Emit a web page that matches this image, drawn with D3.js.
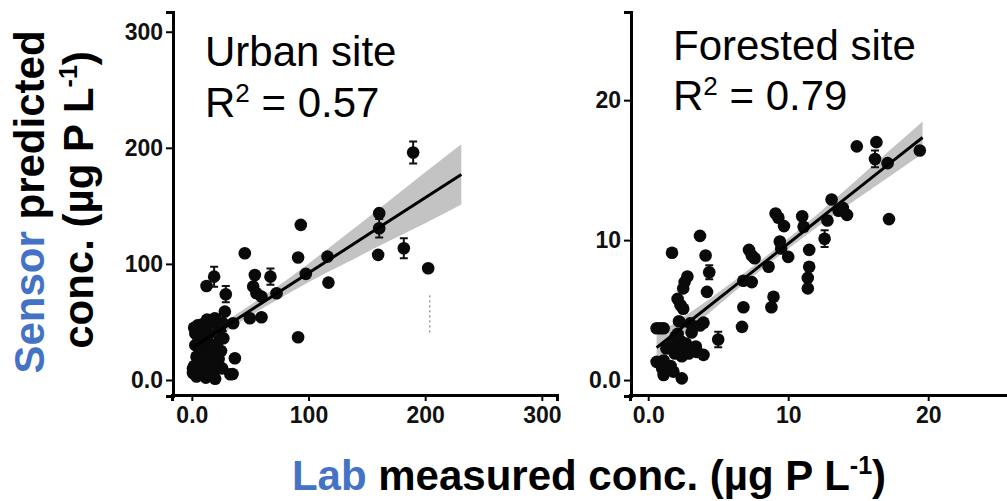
<!DOCTYPE html>
<html><head><meta charset="utf-8">
<script src="https://cdn.jsdelivr.net/npm/d3@7"></script>
<style>
html,body{margin:0;padding:0;background:#fff;}
svg{display:block;font-family:Arial,"Liberation Sans",Helvetica,sans-serif;}
</style></head>
<body>
<svg id="chart" width="1007" height="501"></svg>
<script>
// ---------- data ----------
// Urban site (left panel)
const urbanX = [189.7,160.6,160.6,159.7,181.7,202.6,93.4,91.1,97.7,116.3,117.1,91.1,45.4,54,52.6,55.4,59.7,67.4,72.6,49.7,59.7,12.6,19.1,29.1,28.3,35.4,36.9,34.9,19.7,26.6,
  2,5,8,12,15,18,20,22,6,10,14,3,8,12,16,20,24,4,7,11,15,19,2,5,9,13,17,21,1,4,8,12,16,20,25,27,6,10,14,18,3,9,24,13,1,23,26,33];
const urbanY = [196,143.7,130.7,107.8,113.5,96.3,133.6,105.5,91.4,106.3,83.9,36.8,109.2,90.5,80.5,74.7,71.8,89,74.7,53.2,54,81,89,73.9,58.9,48.9,18.7,5.2,53.2,49,
  45,47,42,44,40,50,52,48,35,38,32,30,28,25,28,30,35,20,22,18,20,22,12,10,14,8,12,15,6,3,5,2,4,1,25,36,15,8,12,6,40,48,44,52,10,18,10,5];
const urbanErr = [9.5,0,8,0,8.6,0,0,0,0,0,0,0,0,0,0,0,0,7,0,0,0,0,8.6,7,0,0,0,0,0,7,
  0,0,0,0,0,0,0,0,0,0,0,0,0,0,0,0,0,0,0,0,0,0,0,0,0,0,0,0,0,0,0,0,0,0,0,0,0,0,0,0,0,0,0,0,0,0,0,0];
const urbanFitX  = [1, 30, 60, 100, 130, 160, 200, 231];
const urbanFitY  = [28.0, 46.8, 66.3, 92.2, 111.6, 131.1, 157.0, 177.1];
const urbanBandLo= [22.0, 42.3, 61.3, 84.2, 99.6, 115.1, 135.0, 151.1];
const urbanBandHi= [34.0, 51.3, 71.3, 100.2, 123.6, 147.1, 179.0, 203.1];
const urbanArtifactX = [204, 204];
const urbanArtifactY = [41, 75];

// Forested site (right panel)
const forestX = [14.9,16.3,16.2,17.1,19.4,17.2,13.1,12.8,13.6,14.2,13.9,12.6,11.0,11.1,11.5,11.5,11.4,11.4,9.1,9.3,9.7,9.4,9.5,10.0,8.6,8.95,8.8,7.2,7.4,7.6,6.8,7.4,6.8,6.7,5.0,3.7,4.1,4.36,4.2,1.7,2.8,2.6,2.5,2.1,2.3,2.5,2.2,0.86,1.1,0.6,3.0,3.7,3.95,3.1,2.1,2.3,2.7,3.0,3.4,1.7,1.3,1.9,2.4,2.9,3.5,3.95,0.6,1.1,1.0,1.1,1.8,2.4,1.6,2.2,1.95];
const forestY = [16.7,17.0,15.8,15.5,16.4,11.5,12.9,11.4,12.1,11.8,12.3,10.1,11.7,10.95,9.3,8.1,7.3,6.55,11.9,11.6,11.0,9.9,9.4,8.8,8.1,5.95,5.2,9.3,8.9,8.7,7.1,7.0,5.2,3.8,2.9,10.3,8.9,7.7,6.3,9.1,7.4,7.0,6.55,5.8,5.36,5.1,4.2,3.7,3.7,3.7,4.05,3.9,4.1,3.4,3.3,2.8,2.6,2.3,2.4,2.6,2.25,1.9,1.7,1.9,2.0,1.8,1.3,1.4,0.83,0.36,0.6,0.12,1.0,2.25,3.1];
const forestErr = [0,0,0.6,0,0,0,0,0,0,0,0,0.6,0,0,0,0,0,0,0,0,0,0,0,0,0,0,0,0,0,0,0,0,0,0,0.55,0,0,0.5,0,0,0,0,0,0,0,0,0,0,0,0,0,0,0,0,0,0,0,0,0,0,0,0,0,0,0,0,0,0,0,0,0,0,0,0,0];
const forestFitX  = [0.6, 3, 6, 9, 12, 15, 17.5, 19.6];
const forestFitY  = [2.32, 4.22, 6.59, 8.96, 11.33, 13.70, 15.68, 17.33];
const forestBandLo= [1.42, 3.62, 6.19, 8.61, 10.88, 13.00, 14.73, 16.18];
const forestBandHi= [3.22, 4.82, 6.99, 9.31, 11.78, 14.40, 16.63, 18.48];

// Axis ticks and labels
const urbanXTicks = [0, 100, 200, 300], urbanXLabels = ["0.0","100","200","300"];
const urbanYTicks = [0, 100, 200, 300], urbanYLabels = ["0.0","100","200","300"];
const forestXTicks = [0, 10, 20], forestXLabels = ["0.0","10","20"];
const forestYTicks = [0, 10, 20], forestYLabels = ["0.0","10","20"];

const svg = d3.select("#chart");
const BLUE = "#4472C4";

function panel(cfg){
  const x = d3.scaleLinear().domain(cfg.xDom).range(cfg.xRange);
  const y = d3.scaleLinear().domain(cfg.yDom).range([396, 12]);
  const g = svg.append("g");

  // band
  const band = d3.area().x((d,i)=>x(cfg.fitX[i])).y0((d,i)=>y(cfg.lo[i])).y1((d,i)=>y(cfg.hi[i])).curve(d3.curveMonotoneX);
  g.append("path").datum(cfg.fitX).attr("d", band).attr("fill","#bdbdbd").attr("opacity",0.9);

  // error bars
  const idx = d3.range(cfg.px.length);
  const eb = idx.filter(i=>cfg.err[i]>0);
  g.selectAll(".eb").data(eb).join("path")
    .attr("d", i=>{const cx=x(cfg.px[i]), a=y(cfg.py[i]-cfg.err[i]), b=y(cfg.py[i]+cfg.err[i]);
       return `M${cx},${a}V${b}M${cx-4},${a}H${cx+4}M${cx-4},${b}H${cx+4}`;})
    .attr("stroke","#111").attr("stroke-width",2).attr("fill","none");

  // points
  g.selectAll(".pt").data(idx).join("circle")
    .attr("cx", i=>x(cfg.px[i])).attr("cy", i=>y(cfg.py[i])).attr("r",6.3).attr("fill","#0a0a0a");

  // fit line
  const line = d3.line().x((d,i)=>x(cfg.fitX[i])).y((d,i)=>y(cfg.fitY[i]));
  g.append("path").datum(cfg.fitX).attr("d", line).attr("stroke","#000").attr("stroke-width",3).attr("fill","none");

  if (cfg.artX){
    g.append("line").attr("x1",x(cfg.artX[0])).attr("x2",x(cfg.artX[1]))
      .attr("y1",y(cfg.artY[0])).attr("y2",y(cfg.artY[1]))
      .attr("stroke","#666").attr("stroke-width",1).attr("stroke-dasharray","2,3");
  }

  // axes
  const ax = g.append("g").attr("transform","translate(0,395)")
    .call(d3.axisBottom(x).tickValues(cfg.xTicks).tickFormat((d,i)=>cfg.xLabels[i]).tickSizeOuter(0).tickSize(6).tickPadding(6));
  const ay = g.append("g").attr("transform",`translate(${cfg.xRange[0]+1},0)`)
    .call(d3.axisLeft(y).tickValues(cfg.yTicks).tickFormat((d,i)=>cfg.yLabels[i]).tickSizeOuter(0).tickSize(7).tickPadding(3));
  [ax, ay].forEach(a=>{
    a.select(".domain").attr("stroke","#000").attr("stroke-width",3);
    a.selectAll(".tick line").attr("stroke","#000").attr("stroke-width",2);
    a.selectAll(".tick text").attr("font-size",23).attr("font-weight","bold").attr("fill","#111")
      .attr("font-family","Arial, 'Liberation Sans', sans-serif");
  });

  // titles
  g.append("text").attr("x",cfg.tx).attr("y",cfg.ty1).attr("font-size",cfg.fs).attr("fill","#000").text(cfg.title);
  const t2 = g.append("text").attr("x",cfg.tx).attr("y",cfg.ty2).attr("font-size",cfg.fs).attr("fill","#000");
  t2.append("tspan").text("R");
  t2.append("tspan").attr("font-size",cfg.fs*0.62).attr("dy",-cfg.fs*0.36).text("2");
  t2.append("tspan").attr("dy",cfg.fs*0.36).text(" = " + cfg.r2);
}

panel({xDom:[-17,313], xRange:[172,557], yDom:[-13.8,317],
  px:urbanX, py:urbanY, err:urbanErr, fitX:urbanFitX, fitY:urbanFitY, lo:urbanBandLo, hi:urbanBandHi,
  artX:urbanArtifactX, artY:urbanArtifactY,
  xTicks:urbanXTicks, xLabels:urbanXLabels, yTicks:urbanYTicks, yLabels:urbanYLabels,
  title:"Urban site", r2:"0.57", tx:205, ty1:66, ty2:117, fs:42});

panel({xDom:[-1.3,26.6], xRange:[630,1020.6], yDom:[-1.14,26.3],
  px:forestX, py:forestY, err:forestErr, fitX:forestFitX, fitY:forestFitY, lo:forestBandLo, hi:forestBandHi,
  xTicks:forestXTicks, xLabels:forestXLabels, yTicks:forestYTicks, yLabels:forestYLabels,
  title:"Forested site", r2:"0.79", tx:673, ty1:60, ty2:110, fs:42});

// y axis title
const yt = svg.append("text").attr("transform","translate(44,202) rotate(-90)")
  .attr("text-anchor","middle").attr("font-size",42).attr("font-weight","bold");
yt.append("tspan").attr("fill",BLUE).text("Sensor");
yt.append("tspan").attr("fill","#000").text(" predicted");
const yt2 = svg.append("text").attr("transform","translate(93,200) rotate(-90)")
  .attr("text-anchor","middle").attr("font-size",42).attr("font-weight","bold").attr("fill","#000");
yt2.append("tspan").text("conc. (µg P L");
yt2.append("tspan").attr("font-size",25).attr("dy",-16).text("-1");
yt2.append("tspan").attr("dy",16).text(")");

// x axis title
const xt = svg.append("text").attr("x",589).attr("y",490)
  .attr("text-anchor","middle").attr("font-size",42).attr("font-weight","bold");
xt.append("tspan").attr("fill",BLUE).text("Lab");
xt.append("tspan").attr("fill","#000").text(" measured conc. (µg P L");
xt.append("tspan").attr("fill","#000").attr("font-size",25).attr("dy",-16).text("-1");
xt.append("tspan").attr("fill","#000").attr("dy",16).text(")");
</script>
</body></html>
